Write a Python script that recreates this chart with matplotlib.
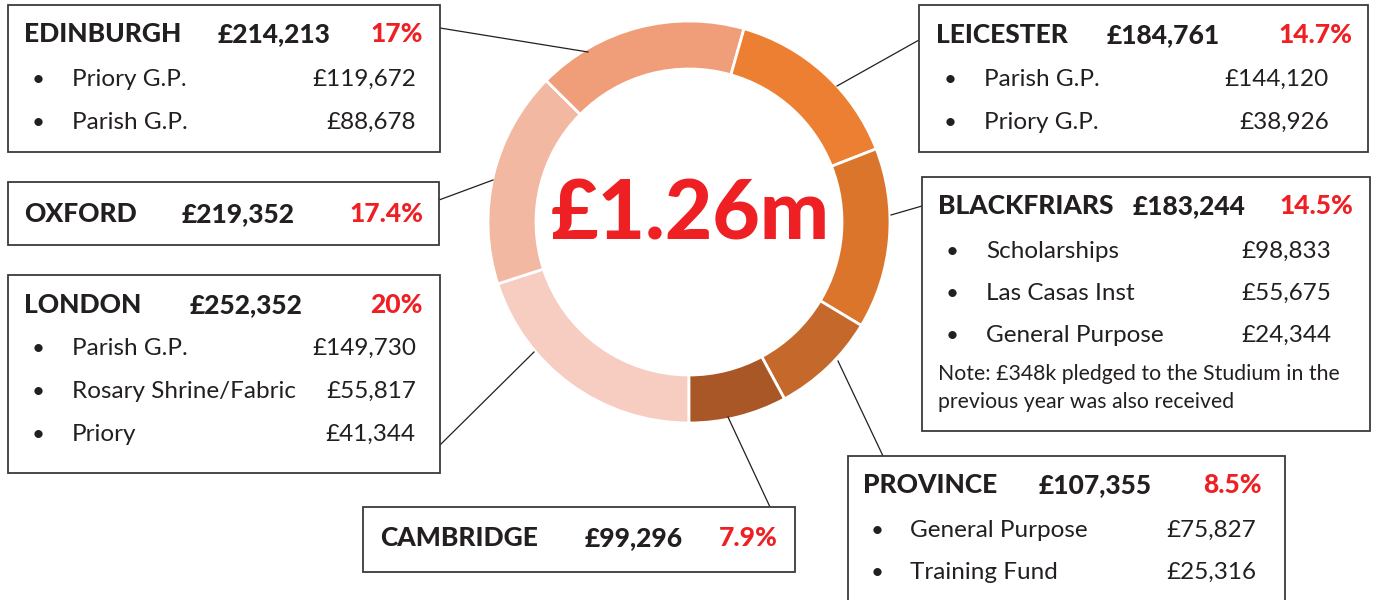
import matplotlib.pyplot as plt
from matplotlib.patches import Rectangle

# pie order: clockwise from the bottom
names = ['LONDON', 'OXFORD', 'EDINBURGH', 'LEICESTER', 'BLACKFRIARS', 'PROVINCE', 'CAMBRIDGE']
totals = [252352, 219352, 214213, 184761, 183244, 107355, 99296]
shares = ['20%', '17.4%', '17%', '14.7%', '14.5%', '8.5%', '7.9%']
colors = ['#F6CDC0', '#F2B8A2', '#F09E79', '#EC7F31', '#DB752B', '#C4682B', '#A95726']

london_items = [('Parish G.P.', '£149,730'), ('Rosary Shrine/Fabric', '£55,817'), ('Priory', '£41,344')]
oxford_items = []
edinburgh_items = [('Priory G.P.', '£119,672'), ('Parish G.P.', '£88,678')]
leicester_items = [('Parish G.P.', '£144,120'), ('Priory G.P.', '£38,926')]
blackfriars_items = [('Scholarships', '£98,833'), ('Las Casas Inst', '£55,675'), ('General Purpose', '£24,344')]
province_items = [('General Purpose', '£75,827'), ('Training Fund', '£25,316')]
cambridge_items = []
items = [london_items, oxford_items, edinburgh_items, leicester_items,
         blackfriars_items, province_items, cambridge_items]

note_lines = ['Note: £348k pledged to the Studium in the', 'previous year was also received']
total_label = '£1.26m'

DARK = '#231F20'
RED = '#EE2024'
FONT = 'Lato'

# layout per region (pixel coords): box, header baseline, name x, amount x, pct right,
# item baselines, bullet x, item text x, value right, leader line
layout = {
    'LONDON': dict(box=(8, 275, 440, 473), hy=313, nx=24, ax=190, px=423,
                   iy=[355, 398, 441], bx=38, tx=72, vx=416, line=[(440, 445), (534, 352)]),
    'OXFORD': dict(box=(8, 182, 439, 245), hy=222, nx=24, ax=182, px=423,
                   iy=[], bx=38, tx=72, vx=416, line=[(439, 200), (493, 180)]),
    'EDINBURGH': dict(box=(8, 5, 440, 152), hy=42, nx=24, ax=218, px=423,
                      iy=[86, 129], bx=38, tx=72, vx=416, line=[(440, 28), (588, 52)]),
    'LEICESTER': dict(box=(919, 5, 1368, 152), hy=43, nx=936, ax=1107, px=1352,
                      iy=[86, 129], bx=950, tx=984, vx=1329, line=[(919, 40), (837, 86)]),
    'BLACKFRIARS': dict(box=(922, 177, 1370, 431), hy=214, nx=938, ax=1133, px=1353,
                        iy=[258, 300, 342], bx=952, tx=986, vx=1331, line=[(922, 206), (891, 215)]),
    'PROVINCE': dict(box=(848, 456, 1285, 640), hy=493, nx=863, ax=1039, px=1262,
                     iy=[537, 579], bx=877, tx=910, vx=1256, line=[(883, 456), (838, 361)]),
    'CAMBRIDGE': dict(box=(363, 507, 795, 572), hy=546, nx=380, ax=585, px=778,
                      iy=[], bx=0, tx=0, vx=0, line=[(770, 507), (728, 417)]),
}

fig = plt.figure(figsize=(13.77, 6), dpi=100)
ax = fig.add_axes([0, 0, 1, 1])

# y axis is inverted below, so data-counterclockwise reads clockwise on screen
ax.pie(totals, colors=colors, startangle=90, counterclock=True,
       center=(689, 222), radius=201,
       wedgeprops=dict(width=48, edgecolor='white', linewidth=2))
ax.set_xlim(0, 1377)
ax.set_ylim(600, 0)
ax.set_aspect('auto')
ax.axis('off')

ax.text(690, 240, total_label, ha='center', va='baseline', fontsize=59,
        fontweight='black', color=RED, family=FONT)

for name, total, share, rows in zip(names, totals, shares, items):
    L = layout[name]
    x0, y0, x1, y1 = L['box']
    (lx0, ly0), (lx1, ly1) = L['line']
    ax.plot([lx0, lx1], [ly0, ly1], color=DARK, lw=0.9, zorder=1)
    ax.add_patch(Rectangle((x0, y0), x1 - x0, y1 - y0, facecolor='white',
                           edgecolor='#3a3a3a', lw=1.3, zorder=2))
    ax.text(L['nx'], L['hy'], name, ha='left', va='baseline', fontsize=19,
            fontweight='black', color=DARK, family=FONT, zorder=3)
    ax.text(L['ax'], L['hy'], f'£{total:,}', ha='left', va='baseline', fontsize=19,
            fontweight='black', color=DARK, family=FONT, zorder=3)
    ax.text(L['px'], L['hy'], share, ha='right', va='baseline', fontsize=19,
            fontweight='black', color=RED, family=FONT, zorder=3)
    for (label, value), y in zip(rows, L['iy']):
        ax.text(L['bx'], y, '•', ha='center', va='baseline', fontsize=16,
                color=DARK, family=FONT, zorder=3)
        ax.text(L['tx'], y, label, ha='left', va='baseline', fontsize=17.5,
                fontweight='normal', color=DARK, family=FONT, zorder=3)
        ax.text(L['vx'], y, value, ha='right', va='baseline', fontsize=17.5,
                fontweight='normal', color=DARK, family=FONT, zorder=3)

for line, y in zip(note_lines, [380, 408]):
    ax.text(938, y, line, ha='left', va='baseline', fontsize=15.3,
            fontweight='normal', color=DARK, family=FONT, zorder=3)

fig.savefig('out.png', dpi=100)
